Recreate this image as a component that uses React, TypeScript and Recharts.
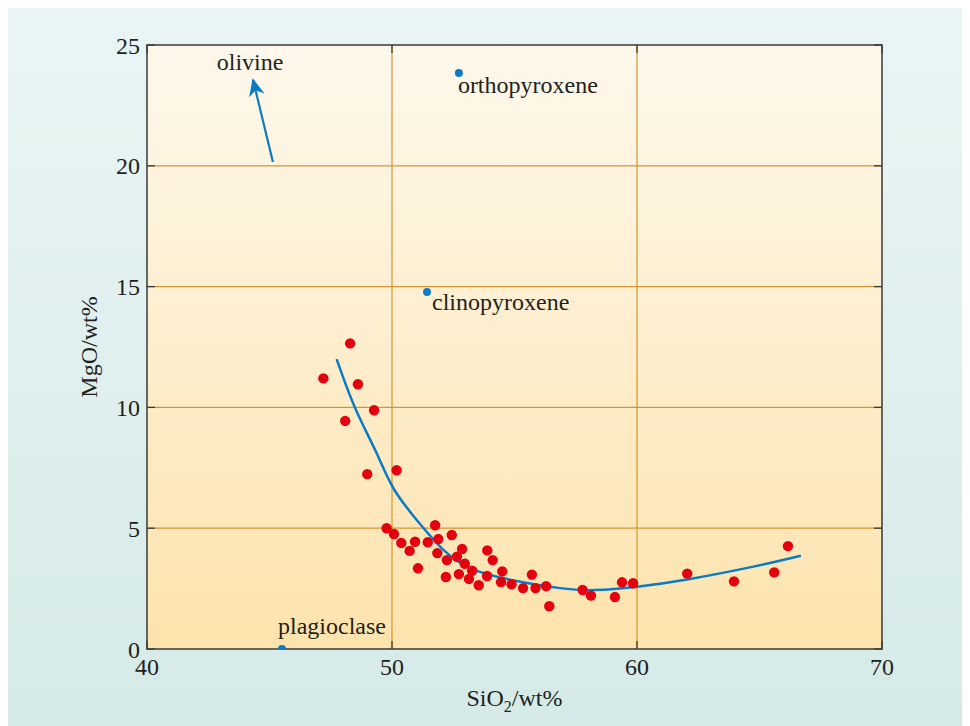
import {
  ComposedChart,
  Scatter,
  Line,
  XAxis,
  YAxis,
  CartesianGrid,
  ReferenceArea,
  Label,
  LabelList
} from 'recharts';

// axis ticks
const X_TICKS = [40, 50, 60, 70];
const Y_TICKS = [0, 5, 10, 15, 20, 25];

// rock samples (SiO2, MgO wt%)
const SAMPLE_SIO2 = [
  48.29, 47.2, 48.61, 49.27, 48.09, 48.99, 50.19, 49.78, 50.08, 50.38, 50.94, 50.72,
  51.06, 51.76, 51.46, 51.89, 52.44, 51.85, 52.24, 52.2, 52.86, 52.65, 52.97, 53.27,
  52.73, 53.14, 53.54, 53.89, 54.11, 53.88, 54.5, 54.45, 54.88, 55.35, 55.71, 55.86,
  56.29, 56.42, 57.78, 58.12, 59.1, 59.39, 59.84, 62.05, 63.96, 65.6, 66.16
];
const SAMPLE_MGO = [
  12.65, 11.2, 10.96, 9.88, 9.44, 7.24, 7.4, 5.0, 4.76, 4.39, 4.44, 4.06,
  3.34, 5.12, 4.42, 4.55, 4.72, 3.97, 3.68, 2.98, 4.14, 3.82, 3.53, 3.24,
  3.1, 2.9, 2.64, 4.08, 3.68, 3.02, 3.21, 2.77, 2.68, 2.52, 3.08, 2.52,
  2.6, 1.77, 2.44, 2.21, 2.15, 2.76, 2.72, 3.12, 2.8, 3.17, 4.26
];

// fitted trend
const TREND_SIO2 = [47.74, 48.49, 49.37, 50.1, 51.18, 52.1, 53.18, 54.88, 56.86, 58.3, 60, 62.05, 64.75, 66.69];
const TREND_MGO = [12.0, 9.99, 8.11, 6.58, 5.13, 4.1, 3.35, 2.86, 2.52, 2.44, 2.58, 2.88, 3.41, 3.86];

// minerals
const MINERAL_NAMES = ['orthopyroxene', 'clinopyroxene', 'plagioclase'];
const MINERAL_SIO2 = [52.73, 51.43, 45.51];
const MINERAL_MGO = [23.84, 14.78, 0];

// olivine direction arrow
const OLIVINE_SIO2 = [45.14, 44.33];
const OLIVINE_MGO = [20.16, 23.55];

const FONT = '"Liberation Serif", "Times New Roman", serif';
const FS = 24;
const TXT = '#231f20';
const BLUE = '#0b7bc3';
const RED = '#e3000f';
const FRAME = '#3a3a3a';
const PLOT_W = 735;
const PLOT_H = 604;
const TICK_IN = 8;

const LABEL_OFFSET: Record<string, { dx: number; dy: number }> = {
  orthopyroxene: { dx: -1, dy: 20 },
  clinopyroxene: { dx: 5, dy: 18 },
  plagioclase: { dx: -4, dy: -15 }
};

const samples = SAMPLE_SIO2.map((x, i) => ({ x, y: SAMPLE_MGO[i] }));
const trend = TREND_SIO2.map((x, i) => ({ x, y: TREND_MGO[i] }));
const minerals = MINERAL_NAMES.map((name, i) => ({ name, x: MINERAL_SIO2[i], y: MINERAL_MGO[i] }));
const olivine = OLIVINE_SIO2.map((x, i) => ({ x, y: OLIVINE_MGO[i] }));

const XTick = (props: any) => {
  const { x, y, payload } = props;
  const base = y - 9;
  return (
    <g>
      <line x1={x} x2={x} y1={base} y2={base - TICK_IN} stroke={FRAME} strokeWidth={1.3} />
      <line x1={x} x2={x} y1={base - PLOT_H} y2={base - PLOT_H + TICK_IN} stroke={FRAME} strokeWidth={1.3} />
      <text x={x} y={y} dy="0.71em" textAnchor="middle" fontFamily={FONT} fontSize={FS} fill={TXT}>
        {payload.value}
      </text>
    </g>
  );
};

const YTick = (props: any) => {
  const { x, y, payload } = props;
  const base = x + 7;
  return (
    <g>
      <line x1={base} x2={base + TICK_IN} y1={y} y2={y} stroke={FRAME} strokeWidth={1.3} />
      <line x1={base + PLOT_W} x2={base + PLOT_W - TICK_IN} y1={y} y2={y} stroke={FRAME} strokeWidth={1.3} />
      <text x={x} y={y} dy="0.355em" textAnchor="end" fontFamily={FONT} fontSize={FS} fill={TXT}>
        {payload.value}
      </text>
    </g>
  );
};

const MineralDot = (props: any) => {
  const { cx, cy, payload } = props;
  const off = LABEL_OFFSET[payload.name];
  return (
    <g>
      <circle cx={cx} cy={cy} r={4} fill={BLUE} />
      <text x={cx + off.dx} y={cy + off.dy} fontFamily={FONT} fontSize={FS} fill={TXT}>
        {payload.name}
      </text>
    </g>
  );
};

export default function App() {
  return (
    <div
      style={{
        width: 962,
        height: 718,
        background: 'linear-gradient(to bottom, #e9f5f4 0%, #d5eae7 100%)'
      }}
    >
      <style>{'body{overflow:hidden}'}</style>
      <ComposedChart width={962} height={718} margin={{ top: 37, right: 88, left: 69, bottom: 27 }}>
        <defs>
          <linearGradient id="plotBg" x1="0" y1="0" x2="0" y2="1">
            <stop offset="0%" stopColor="#fef8ec" />
            <stop offset="100%" stopColor="#fde3ad" />
          </linearGradient>
          <marker id="arrowHead" viewBox="0 0 10 10" refX="9" refY="5" markerWidth="8" markerHeight="8" orient="auto">
            <path d="M0,0.5 L10,5 L0,9.5 L3,5 Z" fill={BLUE} />
          </marker>
        </defs>
        <CartesianGrid
          fill="url(#plotBg)"
          stroke="#d4952f"
          strokeWidth={1.2}
          horizontalValues={[5, 10, 15, 20]}
          verticalValues={[50, 60]}
        />
        <XAxis
          type="number"
          dataKey="x"
          domain={[40, 70]}
          ticks={X_TICKS}
          allowDataOverflow
          height={50}
          tickSize={0}
          tickMargin={9}
          axisLine={false}
          tickLine={false}
          tick={<XTick />}
        >
          <Label
            content={({ viewBox }: any) => (
              <text
                x={viewBox.x + viewBox.width / 2}
                y={viewBox.y + 57}
                textAnchor="middle"
                fontFamily={FONT}
                fontSize={FS}
                fill={TXT}
              >
                SiO
                <tspan fontSize={16} dy={6}>2</tspan>
                <tspan dy={-6}>/wt%</tspan>
              </text>
            )}
          />
        </XAxis>
        <YAxis
          type="number"
          dataKey="y"
          domain={[0, 25]}
          ticks={Y_TICKS}
          allowDataOverflow
          width={70}
          tickSize={0}
          tickMargin={7}
          axisLine={false}
          tickLine={false}
          tick={<YTick />}
        >
          <Label
            content={({ viewBox }: any) => {
              const lx = viewBox.x + 20;
              const ly = viewBox.y + viewBox.height / 2;
              return (
                <text
                  x={lx}
                  y={ly}
                  textAnchor="middle"
                  transform={`rotate(-90 ${lx} ${ly})`}
                  fontFamily={FONT}
                  fontSize={FS}
                  fill={TXT}
                >
                  MgO/wt%
                </text>
              );
            }}
          />
        </YAxis>
        <ReferenceArea x1={40} x2={70} y1={0} y2={25} fill="none" stroke={FRAME} strokeWidth={1.5} fillOpacity={0} />
        <Line
          data={trend}
          dataKey="y"
          type="natural"
          stroke={BLUE}
          strokeWidth={2.5}
          dot={false}
          activeDot={false}
          isAnimationActive={false}
        />
        <Line
          data={olivine}
          dataKey="y"
          type="linear"
          stroke={BLUE}
          strokeWidth={2.2}
          dot={false}
          activeDot={false}
          markerEnd="url(#arrowHead)"
          isAnimationActive={false}
        >
          <LabelList
            dataKey="y"
            content={(p: any) =>
              p.index === 1 ? (
                <text x={p.x - 3} y={p.y - 10} textAnchor="middle" fontFamily={FONT} fontSize={FS} fill={TXT}>
                  olivine
                </text>
              ) : null
            }
          />
        </Line>
        <Scatter data={samples} fill={RED} shape={(p: any) => <circle cx={p.cx} cy={p.cy} r={5.2} fill={RED} />} isAnimationActive={false} />
        <Scatter data={minerals} fill={BLUE} shape={<MineralDot />} isAnimationActive={false} />
      </ComposedChart>
    </div>
  );
}
